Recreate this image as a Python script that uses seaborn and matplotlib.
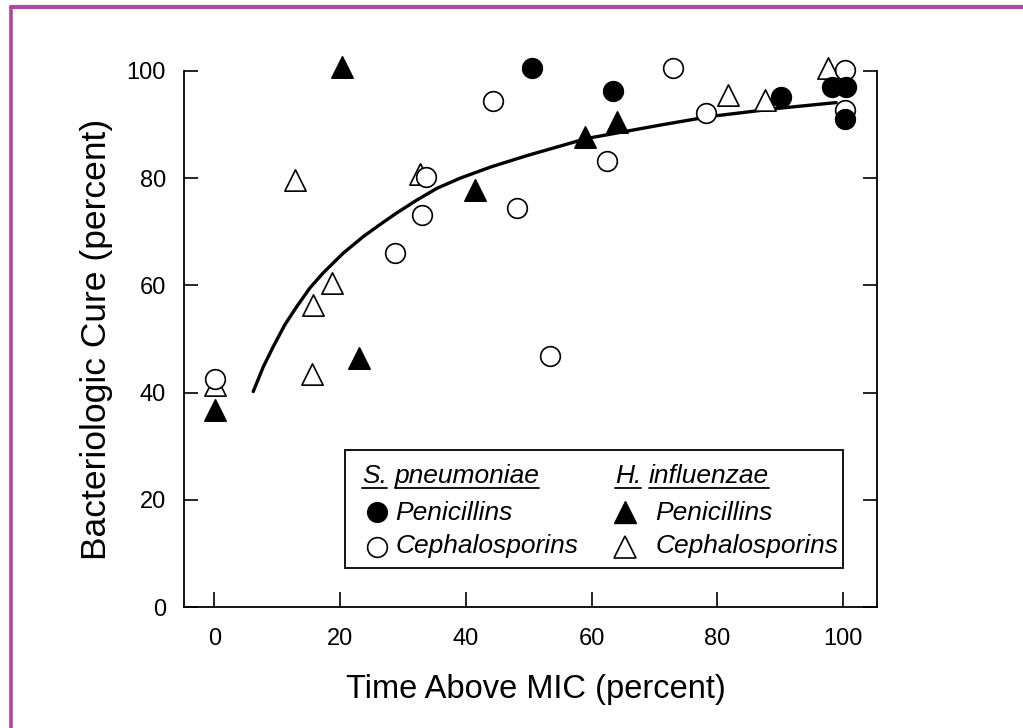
import matplotlib
matplotlib.use("Agg")
import matplotlib.pyplot as plt
import seaborn as sns
from matplotlib.lines import Line2D
from matplotlib.patches import Rectangle

# values
sp_pen_x = [50.6, 63.4, 90.2, 98.2, 100.5, 100.3]
sp_pen_y = [100.5, 96.3, 95.1, 97.1, 97.1, 91.0]

sp_ceph_x = [0.1, 28.8, 33.0, 33.7, 44.4, 48.1, 53.4, 62.4, 73.0, 78.2, 100.3, 100.3]
sp_ceph_y = [42.5, 66.1, 73.1, 80.3, 94.4, 74.4, 46.8, 83.2, 100.5, 92.1, 100.2, 92.7]

hi_pen_x = [0.1, 20.3, 23.1, 41.4, 58.9, 64.0]
hi_pen_y = [36.8, 100.8, 46.4, 77.8, 87.6, 90.5]

hi_ceph_x = [0.1, 12.9, 15.5, 15.7, 18.7, 32.7, 81.7, 87.6, 97.6]
hi_ceph_y = [41.5, 79.7, 43.5, 56.3, 60.5, 80.8, 95.5, 94.5, 100.5]

curve_x = [6.2, 7.8, 9.4, 11.2, 13.1, 15.2, 17.3, 20.5, 23.7, 26.3, 29.0, 32.2,
           35.4, 39.1, 44.0, 49.7, 59.2, 70.9, 78.8, 89.4, 98.9]
curve_y = [40.2, 44.8, 48.6, 52.6, 56.0, 59.5, 62.3, 66.0, 69.1, 71.3, 73.5, 75.9,
           78.1, 80.0, 82.1, 84.2, 87.4, 89.9, 91.5, 93.0, 94.1]

x_ticks = [0, 20, 40, 60, 80, 100]
y_ticks = [0, 20, 40, 60, 80, 100]

sns.set_style("ticks")
plt.rcParams['font.family'] = ['Liberation Sans', 'DejaVu Sans']
plt.rcParams.update({
    'text.color': 'black',
    'axes.labelcolor': 'black',
    'axes.edgecolor': 'black',
    'xtick.color': 'black',
    'ytick.color': 'black',
})

fig = plt.figure(figsize=(10.23, 7.28), dpi=100)
ax = fig.add_axes([0.1799, 0.1662, 0.6774, 0.7363])

# frame of the page
purple = "#b5469f"
fig.add_artist(Line2D([0.0112, 1.0], [0.9905, 0.9905], color=purple, lw=3, transform=fig.transFigure))
fig.add_artist(Line2D([0.0112, 0.0112], [0.0, 0.9905], color=purple, lw=2.6, transform=fig.transFigure))

# fitted curve
sns.lineplot(x=curve_x, y=curve_y, ax=ax, color="black", lw=2.4, estimator=None, sort=False, zorder=2)

ms = 200
mt = 235
lw = 1.2
sns.scatterplot(x=hi_ceph_x, y=hi_ceph_y, ax=ax, marker="^", s=mt, facecolor="white",
                edgecolor="black", linewidth=lw, zorder=3, clip_on=False)
sns.scatterplot(x=hi_pen_x, y=hi_pen_y, ax=ax, marker="^", s=mt, color="black",
                edgecolor="black", linewidth=lw, zorder=3, clip_on=False)
sns.scatterplot(x=sp_ceph_x, y=sp_ceph_y, ax=ax, marker="o", s=ms, facecolor="white",
                edgecolor="black", linewidth=lw, zorder=4, clip_on=False)
sns.scatterplot(x=sp_pen_x, y=sp_pen_y, ax=ax, marker="o", s=ms, color="black",
                edgecolor="black", linewidth=lw, zorder=4, clip_on=False)

ax.set_xlim(-4.8, 105.4)
ax.set_ylim(0, 100)
ax.set_xticks(x_ticks)
ax.set_yticks(y_ticks)
ax.spines['top'].set_visible(False)
for s in ['left', 'right', 'bottom']:
    ax.spines[s].set_linewidth(1.3)
ax.spines['left'].set_bounds(0, 100)
ax.spines['right'].set_bounds(0, 100)
ax.tick_params(axis='y', direction='in', length=10, width=1.2, pad=13, labelsize=17,
               left=True, right=True, labelright=False)
ax.tick_params(axis='x', direction='in', length=11, width=1.2, pad=15, labelsize=17)

ax.set_xlabel("Time Above MIC (percent)", fontsize=23.5, labelpad=18)
ax.xaxis.set_label_coords(0.508, -0.125)
ax.set_ylabel("Bacteriologic Cure (percent)", fontsize=25.5, labelpad=10)

# legend box drawn by hand to match the two-column layout
ax.add_patch(Rectangle((0.232, 0.073), 0.719, 0.220, transform=ax.transAxes,
                       facecolor="white", edgecolor="black", lw=1.3, zorder=5))

lfs = 19
ax.plot([0.278], [0.178], "o", ms=14.2, mfc="black", mec="black", transform=ax.transAxes, zorder=6)
ax.plot([0.278], [0.1125], "o", ms=14.2, mfc="white", mec="black", mew=lw, transform=ax.transAxes, zorder=6)
ax.plot([0.636], [0.178], "^", ms=15.3, mfc="black", mec="black", transform=ax.transAxes, zorder=6)
ax.plot([0.636], [0.1125], "^", ms=15.3, mfc="white", mec="black", mew=lw, transform=ax.transAxes, zorder=6)

ax.text(0.3045, 0.162, "Penicillins", transform=ax.transAxes, fontsize=lfs, style="italic",
        va="baseline", zorder=6)
ax.text(0.3045, 0.100, "Cephalosporins", transform=ax.transAxes, fontsize=lfs, style="italic",
        va="baseline", zorder=6)
ax.text(0.680, 0.162, "Penicillins", transform=ax.transAxes, fontsize=lfs, style="italic",
        va="baseline", zorder=6)
ax.text(0.680, 0.100, "Cephalosporins", transform=ax.transAxes, fontsize=lfs, style="italic",
        va="baseline", zorder=6)

# underlined headers, each word underlined on its own
fig.canvas.draw()
renderer = fig.canvas.get_renderer()
inv = ax.transAxes.inverted()


def underlined_header(x0, y0, words):
    x = x0
    space = None
    for w in words:
        t = ax.text(x, y0, w, transform=ax.transAxes, fontsize=lfs, style="italic",
                    va="baseline", zorder=6)
        bb = t.get_window_extent(renderer=renderer)
        (ax0, _), (ax1, _) = inv.transform([[bb.x0, bb.y0], [bb.x1, bb.y0]])
        base = ax.transAxes.transform([[x0, y0]])[0][1]
        uy = inv.transform([[0, base - 5]])[0][1]
        ax.add_line(Line2D([ax0, ax1], [uy, uy], color="black", lw=1.3,
                           transform=ax.transAxes, zorder=6))
        if space is None:
            sp = ax.text(0, 0, "a a", fontsize=lfs, style="italic")
            sp2 = ax.text(0, 0, "aa", fontsize=lfs, style="italic")
            wpx = sp.get_window_extent(renderer).width - sp2.get_window_extent(renderer).width
            sp.remove()
            sp2.remove()
            space = wpx / ax.bbox.width
        x = ax1 + space


underlined_header(0.257, 0.232, ["S.", "pneumoniae"])
underlined_header(0.622, 0.232, ["H.", "influenzae"])

fig.savefig("out.png", dpi=100)
